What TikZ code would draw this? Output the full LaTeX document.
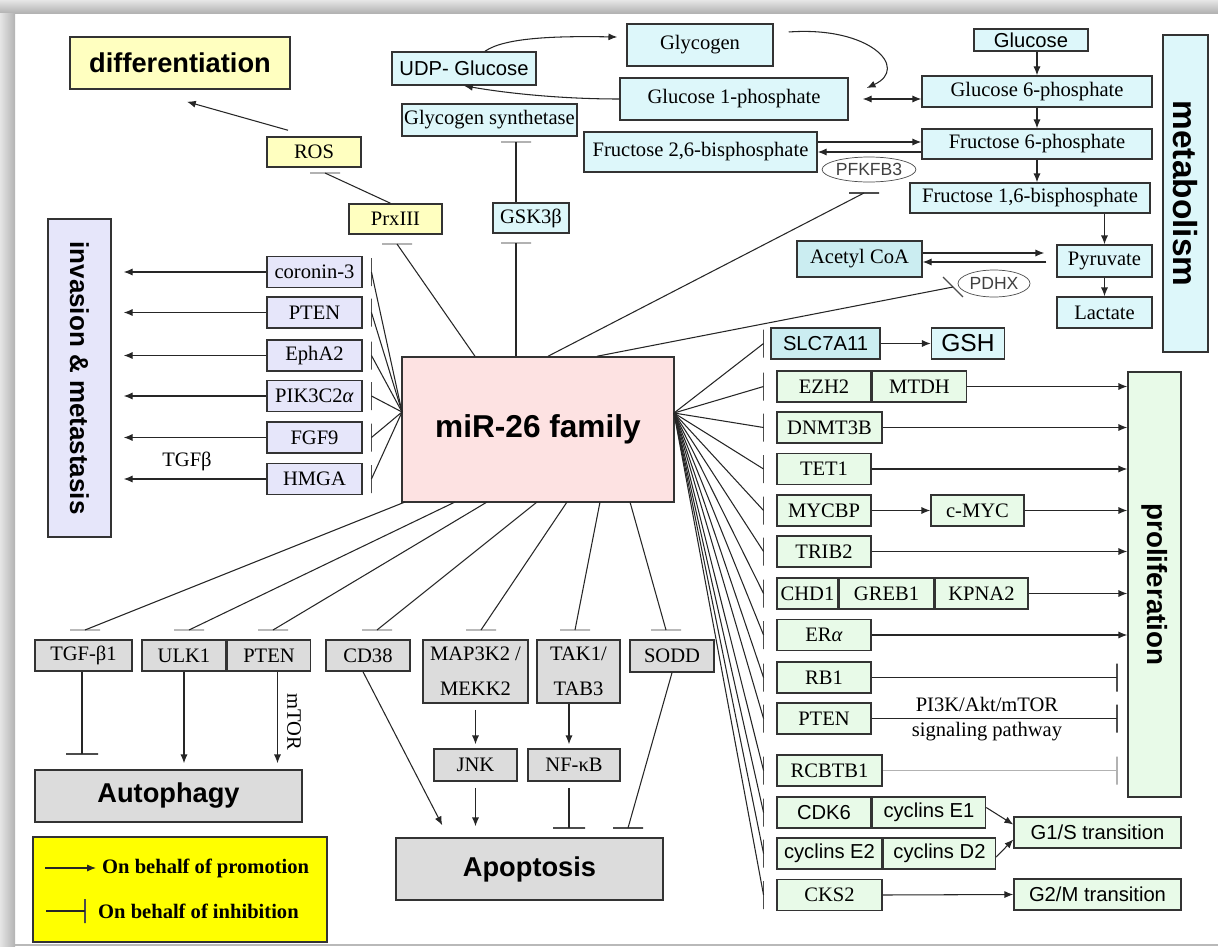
\documentclass[tikz,border=0pt]{standalone}
\usepackage{fontspec}
\setmainfont{Liberation Serif}
\setsansfont{Liberation Sans}
\usepackage{tikz}
\usetikzlibrary{arrows.meta,calc,positioning,shapes}

\newlength{\pxu}
\setlength{\pxu}{0.02cm}

\definecolor{yelbox}{RGB}{255,255,192}
\definecolor{cyabox}{RGB}{221,247,250}
\definecolor{cyadark}{RGB}{203,237,241}
\definecolor{lavbox}{RGB}{230,230,250}
\definecolor{pinkbox}{RGB}{253,226,226}
\definecolor{grnbox}{RGB}{232,250,232}
\definecolor{grybox}{RGB}{220,220,220}
\definecolor{legbox}{RGB}{255,255,0}

\begin{document}
\begin{tikzpicture}[x=0.02cm, y=-0.02cm, >={Latex[length=5pt,width=4pt]}]
	\tikzstyle{box} = [draw=black!80, line width=0.85pt, rectangle, inner sep=1pt, font=\fontsize{11.7}{13}\selectfont]
	\tikzstyle{ybox} = [box, fill=yelbox]
	\tikzstyle{cbox} = [box, fill=cyabox]
	\tikzstyle{lbox} = [box, fill=lavbox, minimum width=95\pxu, minimum height=31\pxu]
	\tikzstyle{gbox} = [box, fill=grnbox, minimum width=94\pxu, minimum height=31\pxu]
	\tikzstyle{sbox} = [box, fill=grybox, minimum height=31\pxu]
	\tikzstyle{sans} = [font=\sffamily\fontsize{11.5}{13}\selectfont]
	\tikzstyle{title} = [font=\sffamily\bfseries\fontsize{15.5}{17}\selectfont]
	\tikzstyle{enz} = [draw=black!70, ellipse, fill=white, inner sep=0pt, font=\sffamily\fontsize{10}{12}\selectfont, text=black!75]
	\tikzstyle{conn} = [draw=black!85, line width=0.6pt]
	\tikzstyle{hbar} = [draw=black!70, line width=0.8pt, inner sep=0pt, minimum width=30\pxu, minimum height=0pt]
	\tikzstyle{vbar} = [draw=black!70, line width=0.8pt, inner sep=0pt, minimum width=0pt, minimum height=28\pxu]

	% frame
	\useasboundingbox (0,0) rectangle (1218,947);
	\fill [white] (0,0) rectangle (1218,947);
	\shade [top color=gray!20, bottom color=gray!60] (0,0) rectangle (1218,13);
	\shade [left color=gray!20, right color=gray!60] (0,13) rectangle (15,947);
	\draw [gray!55, line width=1pt] (15,945) -- (1218,945);

	% centre
	\node [box, fill=pinkbox, minimum width=272\pxu, minimum height=145\pxu, font=\sffamily\bfseries\fontsize{18}{20}\selectfont] (mir) at (538,429.5) {miR-26 family};
	\coordinate (mL) at (402,412);
	\coordinate (mR) at (674,413);

	% differentiation
	\node [ybox, title, minimum width=220\pxu, minimum height=52\pxu] (diff) at (180,63) {differentiation};
	\node [ybox, minimum width=94\pxu, minimum height=30\pxu] (ros) at (314,152) {ROS};
	\node [ybox, minimum width=93\pxu, minimum height=30\pxu] (prx) at (395.5,219) {PrxIII};
	\node [hbar, draw=gray!60] (bros) at (325,173) {};
	\node [hbar, draw=gray!60] (bprx) at (397,244) {};
	\draw [conn, ->] ([xshift=-26\pxu, yshift=6\pxu]ros.north) -- ([xshift=7\pxu, yshift=-12\pxu]diff.south);
	\draw [conn] ([xshift=-5\pxu]prx.north) -- (bros.center);
	\draw [conn] ([xshift=-63\pxu]mir.north) -- (bprx.center);

	% metabolism
	\node [cbox, sans, minimum width=144\pxu, minimum height=33\pxu] (udp) at (464,68.5) {UDP- Glucose};
	\node [cbox, minimum width=146\pxu, minimum height=42\pxu] (glycogen) at (700,45) {Glycogen};
	\node [cbox, minimum width=228\pxu, minimum height=42\pxu] (g1p) at (734,99) {Glucose 1-phosphate};
	\node [cbox, minimum width=175\pxu, minimum height=32\pxu] (gsyn) at (489.5,120) {Glycogen synthetase};
	\node [cbox, minimum width=233\pxu, minimum height=40\pxu] (f26) at (700.5,152) {Fructose 2,6-bisphosphate};
	\node [cbox, sans, minimum width=114\pxu, minimum height=22\pxu] (glc) at (1031,40) {Glucose};
	\node [cbox, minimum width=230\pxu, minimum height=31\pxu] (g6p) at (1037,91.5) {Glucose 6-phosphate};
	\node [cbox, minimum width=230\pxu, minimum height=30\pxu] (f6p) at (1037,144) {Fructose 6-phosphate};
	\node [cbox, minimum width=240\pxu, minimum height=30\pxu] (f16p) at (1030,198) {Fructose 1,6-bisphosphate};
	\node [cbox, fill=cyadark, minimum width=125\pxu, minimum height=36\pxu] (acoa) at (859.5,259) {Acetyl CoA};
	\node [cbox, minimum width=95\pxu, minimum height=32\pxu] (pyr) at (1104.5,261) {Pyruvate};
	\node [cbox, minimum width=95\pxu, minimum height=31\pxu] (lac) at (1104.5,312.5) {Lactate};
	\node [enz, minimum width=82\pxu, minimum height=25\pxu] (pfk) at (869,169.5) {PFKFB3};
	\node [enz, minimum width=72\pxu, minimum height=27\pxu] (pdhx) at (994,283.5) {PDHX};
	\node [cbox, minimum width=45\pxu, minimum height=317\pxu] (metab) at (1185.5,193.5) {};
	\node [rotate=-90, font=\sffamily\bfseries\fontsize{19}{21}\selectfont] (metabT) at (metab.center) {metabolism};
	\node [cbox, minimum width=76\pxu, minimum height=30\pxu] (gsk) at (531,218) {GSK3β};
	\node [cbox, sans, fill=cyadark, minimum width=109\pxu, minimum height=31\pxu] (slc) at (825.5,343.5) {SLC7A11};
	\node [cbox, font=\sffamily\fontsize{14}{16}\selectfont, minimum width=73\pxu, minimum height=31\pxu] (gsh) at (968,343.5) {GSH};

	\draw [conn, ->] ([xshift=21\pxu]udp.north) .. controls (505,37) and (560,36) .. ([xshift=-9\pxu, yshift=8\pxu]glycogen.west);
	\draw [conn, ->] (g1p.west) .. controls (560,99) and (505,93) .. (udp.south);
	\draw [conn, ->] ([xshift=15\pxu, yshift=13\pxu]glycogen.east) .. controls (870,26) and (910,68) .. ([xshift=18\pxu, yshift=11\pxu]g1p.east);
	\draw [conn, <->] ([xshift=14\pxu]g1p.east) -- (g1p.east -| g6p.west);
	\draw [conn, ->] (glc.south -| g6p.north) -- (g6p.north);
	\draw [conn, ->] (g6p.south) -- (f6p.north);
	\draw [conn, ->] (f6p.south) -- (f6p.south |- f16p.north);
	\draw [conn, ->] (pyr.north |- f16p.south) -- (pyr.north);
	\draw [conn, ->] (pyr.south) -- (lac.north);
	\draw [conn, ->] ([yshift=10\pxu]f26.east) -- ([yshift=10\pxu]f26.east -| f6p.west);
	\draw [conn, ->] ([yshift=-8\pxu]f6p.west) -- ([yshift=-8\pxu]f6p.west -| f26.east);
	\draw [conn, ->] ([yshift=6\pxu]acoa.east) -- ([xshift=-12\pxu, yshift=6\pxu]acoa.east -| pyr.west);
	\draw [conn, ->] ([xshift=-10\pxu, yshift=-3\pxu]acoa.east -| pyr.west) -- ([yshift=-3\pxu]acoa.east);
	\draw [conn, ->] (slc.east) -- (gsh.west);

	\node [hbar, draw=gray!60] (bgsyn) at (516,142) {};
	\node [hbar, draw=gray!60] (bgsk) at (516,243) {};
	\node [hbar] (bpfk) at (864,193) {};
	\node [hbar, rotate=-45, minimum width=28\pxu] (bpdhx) at (953,287) {};
	\draw [conn] (gsk.north -| bgsyn) -- (bgsyn.center);
	\draw [conn] (mir.north -| bgsk) -- (bgsk.center);
	\draw [conn] ([xshift=10\pxu]mir.north) -- (bpfk.center);
	\draw [conn] ([xshift=59\pxu]mir.north) -- (bpdhx.center);

	% invasion & metastasis
	\node [lbox, minimum width=63\pxu, minimum height=318\pxu] (inv) at (79.5,378) {};
	\node [rotate=-90, font=\sffamily\bfseries\fontsize{14.8}{16}\selectfont] (invT) at (inv.center) {invasion \& metastasis};
	\node [lbox] (cor) at (314.5,272) {coronin-3};
	\node [lbox] (ptenL) at (314.5,312.5) {PTEN};
	\node [lbox] (eph) at (314.5,355.5) {EphA2};
	\node [lbox] (pik) at (314.5,396) {PIK3C2\textit{α}};
	\node [lbox] (fgf) at (314.5,437.5) {FGF9};
	\node [lbox] (hmga) at (314.5,479) {HMGA};
	\node [font=\fontsize{11.7}{13}\selectfont] (tgfb) at (187,461) {TGFβ};

	\node [vbar, right=8\pxu of cor] (bcor) {};
	\node [vbar, right=8\pxu of ptenL] (bptl) {};
	\node [vbar, right=8\pxu of eph] (beph) {};
	\node [vbar, right=8\pxu of pik] (bpik) {};
	\node [vbar, right=8\pxu of fgf] (bfgf) {};
	\node [vbar, right=8\pxu of hmga] (bhmga) {};
	\draw [conn] (mL) -- (bcor.center);
	\draw [conn] (mL) -- (bptl.center);
	\draw [conn] (mL) -- (beph.center);
	\draw [conn] (mL) -- (bpik.center);
	\draw [conn] (mL) -- (bfgf.center);
	\draw [conn] (mL) -- (bhmga.center);
	\draw [conn, ->] (cor.west) -- ([xshift=12\pxu]cor.west -| inv.east);
	\draw [conn, ->] (ptenL.west) -- ([xshift=12\pxu]ptenL.west -| inv.east);
	\draw [conn, ->] (eph.west) -- ([xshift=12\pxu]eph.west -| inv.east);
	\draw [conn, ->] (pik.west) -- ([xshift=12\pxu]pik.west -| inv.east);
	\draw [conn, ->] (fgf.west) -- ([xshift=12\pxu]fgf.west -| inv.east);
	\draw [conn, ->] (hmga.west) -- ([xshift=12\pxu]hmga.west -| inv.east);

	% proliferation
	\node [gbox] (ezh) at (824,386.5) {EZH2};
	\node [gbox, right=0pt of ezh] (mtdh) {MTDH};
	\node [gbox, minimum width=105\pxu] (dnmt) at (829.5,427.5) {DNMT3B};
	\node [gbox] (tet) at (824,469) {TET1};
	\node [gbox] (mycbp) at (824,510.5) {MYCBP};
	\node [gbox, minimum width=93\pxu] (cmyc) at (977.5,510.5) {c-MYC};
	\node [gbox] (trib) at (824,551.5) {TRIB2};
	\node [gbox, minimum width=61\pxu] (chd) at (807.5,593.5) {CHD1};
	\node [gbox, right=0pt of chd] (greb) {GREB1};
	\node [gbox, minimum width=93\pxu, right=0pt of greb] (kpna) {KPNA2};
	\node [gbox] (era) at (824,635) {ER\textit{α}};
	\node [gbox] (rb) at (824,677.5) {RB1};
	\node [gbox] (ptenR) at (824,718.5) {PTEN};
	\node [gbox, minimum width=105\pxu] (rcb) at (829.5,770.5) {RCBTB1};
	\node [gbox, sans] (cdk) at (824,812.5) {CDK6};
	\node [gbox, sans, minimum width=113\pxu, right=0pt of cdk] (cyce1) {cyclins E1};
	\node [gbox, sans, minimum width=105\pxu] (cyce2) at (829.5,853.5) {cyclins E2};
	\node [gbox, sans, minimum width=112\pxu, right=0pt of cyce2] (cycd2) {cyclins D2};
	\node [gbox, minimum width=105\pxu] (cks) at (829.5,895) {CKS2};
	\node [gbox, sans, minimum width=167\pxu] (g1s) at (1097.5,832.5) {G1/S transition};
	\node [gbox, sans, minimum width=167\pxu] (g2m) at (1097.5,894.5) {G2/M transition};
	\node [gbox, minimum width=53\pxu, minimum height=425\pxu] (prolif) at (1154.5,584.5) {};
	\node [rotate=-90, font=\sffamily\bfseries\fontsize{15.8}{17}\selectfont] (prolifT) at (prolif.center) {proliferation};
	\node [align=center, font=\fontsize{11.7}{14}\selectfont] (pi3k) at (987,719) {PI3K/Akt/mTOR\\signaling pathway};

	\node [vbar, left=6\pxu of slc] (bslc) {};
	\node [vbar, left=12\pxu of ezh] (bezh) {};
	\node [vbar, left=12\pxu of dnmt] (bdnmt) {};
	\node [vbar, left=12\pxu of tet] (btet) {};
	\node [vbar, left=12\pxu of mycbp] (bmyc) {};
	\node [vbar, left=12\pxu of trib] (btrib) {};
	\node [vbar, left=12\pxu of chd] (bchd) {};
	\node [vbar, left=12\pxu of era] (bera) {};
	\node [vbar, left=12\pxu of rb] (brb) {};
	\node [vbar, left=12\pxu of ptenR] (bptr) {};
	\node [vbar, left=12\pxu of rcb] (brcb) {};
	\node [vbar, left=12\pxu of cdk] (bcdk) {};
	\node [vbar, left=12\pxu of cyce2] (bcyc) {};
	\node [vbar, left=12\pxu of cks] (bcks) {};
	\draw [conn] (mR) -- (bslc.center);
	\draw [conn] (mR) -- (bezh.center);
	\draw [conn] (mR) -- (bdnmt.center);
	\draw [conn] (mR) -- (btet.center);
	\draw [conn] (mR) -- (bmyc.center);
	\draw [conn] (mR) -- (btrib.center);
	\draw [conn] (mR) -- (bchd.center);
	\draw [conn] (mR) -- (bera.center);
	\draw [conn] (mR) -- (brb.center);
	\draw [conn] (mR) -- (bptr.center);
	\draw [conn] (mR) -- (brcb.center);
	\draw [conn] (mR) -- (bcdk.center);
	\draw [conn] (mR) -- (bcyc.center);
	\draw [conn] (mR) -- (bcks.center);

	\draw [conn, ->] (mtdh.east) -- (mtdh.east -| prolif.west);
	\draw [conn, ->] (dnmt.east) -- (dnmt.east -| prolif.west);
	\draw [conn, ->] (tet.east) -- (tet.east -| prolif.west);
	\draw [conn, ->] (mycbp.east) -- (cmyc.west);
	\draw [conn, ->] (cmyc.east) -- (cmyc.east -| prolif.west);
	\draw [conn, ->] (trib.east) -- (trib.east -| prolif.west);
	\draw [conn, ->] (kpna.east) -- (kpna.east -| prolif.west);
	\draw [conn, ->] (era.east) -- (era.east -| prolif.west);
	\node [vbar] (irb) at (1117,677.5) {};
	\node [vbar] (iptr) at (1117,718.5) {};
	\node [vbar, draw=gray!60] (ircb) at (1117,770.5) {};
	\draw [conn] (rb.east) -- (irb.center);
	\draw [conn] (ptenR.east) -- (iptr.center);
	\draw [conn, draw=gray!60, line width=0.8pt] (rcb.east) -- (ircb.center);
	\draw [conn, ->] ([yshift=5\pxu]cyce1.east) -- ([yshift=8\pxu]g1s.west);
	\draw [conn, ->] ([yshift=-3.5\pxu]cycd2.east) -- ([yshift=-7\pxu]g1s.west);
	\draw [conn, ->] (cks.east) -- (g2m.west);

	% autophagy and apoptosis
	\node [sbox, minimum width=97\pxu] (tgf) at (83.5,655.5) {TGF-β1};
	\node [sbox, minimum width=84\pxu] (ulk) at (184,655.5) {ULK1};
	\node [sbox, minimum width=83\pxu, right=0pt of ulk] (ptenB) {PTEN};
	\node [sbox, minimum width=84\pxu] (cd38) at (368,655.5) {CD38};
	\node [sbox, minimum width=105\pxu, minimum height=63\pxu, align=center, font=\fontsize{11.7}{20}\selectfont] (map) at (475.5,671.5) {MAP3K2 /\\MEKK2};
	\node [sbox, minimum width=83\pxu, minimum height=63\pxu, align=center, font=\fontsize{11.7}{20}\selectfont] (tak) at (578.5,671.5) {TAK1/\\TAB3};
	\node [sbox, minimum width=84\pxu, minimum height=32\pxu] (sodd) at (672,656) {SODD};
	\node [sbox, minimum width=83\pxu, minimum height=32\pxu] (jnk) at (475.5,765) {JNK};
	\node [sbox, minimum width=92\pxu, minimum height=32\pxu] (nfkb) at (574,765) {NF-κB};
	\node [sbox, title, minimum width=267\pxu, minimum height=52\pxu] (auto) at (168.5,796) {Autophagy};
	\node [sbox, title, minimum width=267\pxu, minimum height=62\pxu] (apop) at (529.5,869) {Apoptosis};
	\node [rotate=-90, font=\fontsize{11.7}{13}\selectfont] (mtor) at (294,722) {mTOR};

	\coordinate (mB1) at (405,502);
	\coordinate (mB2) at (455,502);
	\coordinate (mB3) at (487,502);
	\coordinate (mB4) at (537,502);
	\coordinate (mB5) at (567,502);
	\coordinate (mB6) at (600,502);
	\coordinate (mB7) at (630,502);
	\node [hbar, draw=gray!55] (btgf) at (85,630) {};
	\node [hbar, draw=gray!55] (bulk) at (189,630) {};
	\node [hbar, draw=gray!55] (bptb) at (273,630) {};
	\node [hbar, draw=gray!55] (bcd) at (377,630) {};
	\node [hbar, draw=gray!55] (bmap) at (481,630) {};
	\node [hbar, draw=gray!55] (btak) at (575,630) {};
	\node [hbar, draw=gray!55] (bsod) at (666,630) {};
	\draw [conn] (mB1) -- (btgf.center);
	\draw [conn] (mB2) -- (bulk.center);
	\draw [conn] (mB3) -- (bptb.center);
	\draw [conn] (mB4) -- (bcd.center);
	\draw [conn] (mB5) -- (bmap.center);
	\draw [conn] (mB6) -- (btak.center);
	\draw [conn] (mB7) -- (bsod.center);

	\node [hbar, minimum width=32\pxu] (bta) at (82,754) {};
	\node [hbar, minimum width=32\pxu] (bna) at (569,828) {};
	\node [hbar] (bsa) at (628,828) {};
	\draw [conn] (tgf.south -| bta) -- (bta.center);
	\draw [conn, ->] (ulk.south) -- ([yshift=6\pxu]ulk.south |- auto.north);
	\draw [conn, ->] ([xshift=8.5\pxu]ptenB.south) -- ([xshift=8.5\pxu, yshift=6\pxu]ptenB.south |- auto.north);
	\draw [conn, ->] ([xshift=-5\pxu]cd38.south) -- ([xshift=47\pxu, yshift=12\pxu]apop.north west);
	\draw [conn, ->] ([yshift=-6\pxu]map.south) -- ([yshift=4\pxu]jnk.north);
	\draw [conn, ->] ([xshift=-9.5\pxu]tak.south) -- ([xshift=-5\pxu, yshift=4\pxu]nfkb.north);
	\draw [conn, ->] ([yshift=-6\pxu]jnk.south) -- ([yshift=11\pxu]jnk.south |- apop.north);
	\draw [conn] ([xshift=-5\pxu, yshift=-6\pxu]nfkb.south) -- (bna.center);
	\draw [conn] (sodd.south) -- (bsa.center);

	% legend
	\node [draw=black!80, line width=0.85pt, fill=legbox, minimum width=294\pxu, minimum height=105\pxu] (legend) at (180,889.5) {};
	\node [anchor=west, font=\bfseries\fontsize{11.7}{13}\selectfont] (lgprom) at (96,868) {On behalf of promotion};
	\node [anchor=west, font=\bfseries\fontsize{11.7}{13}\selectfont] (lginh) at (92,911) {On behalf of inhibition};
	\node [vbar, minimum height=24\pxu] (lgbar) at (85,911) {};
	\coordinate (lgA) at (45,868);
	\coordinate (lgB) at (46,911);
	\draw [conn, ->] (lgA) -- (lgprom.west);
	\draw [conn] (lgB) -- (lgbar.center);
\end{tikzpicture}
\end{document}
